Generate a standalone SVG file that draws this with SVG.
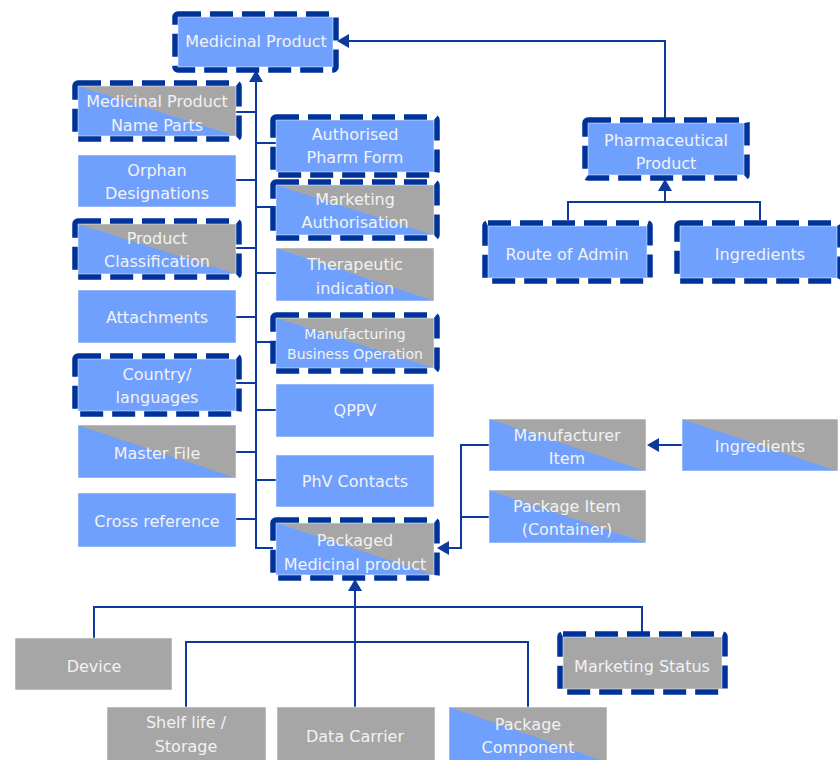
<svg xmlns="http://www.w3.org/2000/svg" width="840" height="760" viewBox="0 0 840 760">
  <style>
    .blue { fill: #6fa0fe; stroke: #ffffff; stroke-width: 1; stroke-opacity: 0.5; }
    .grey { fill: #a6a6a6; stroke: #ffffff; stroke-width: 1; stroke-opacity: 0.5; }
    .split { fill: url(#split); stroke: #ffffff; stroke-width: 1; stroke-opacity: 0.5; }
    .dash { fill: none; stroke: #003399; stroke-width: 5.5; stroke-dasharray: 23 9; }
    .lbl { font-family: "DejaVu Sans", Verdana, sans-serif; font-size: 16px; fill: #f2f2f2; text-anchor: middle; }
    .sm { font-size: 14px; }
    .wire { fill: none; stroke: #0d3a9c; stroke-width: 2; }
    .head { fill: #0d3a9c; }
  </style>
  <defs>
    <!-- hard diagonal split: grey upper-right, blue lower-left -->
    <linearGradient id="split" x1="1" y1="0" x2="0" y2="1">
      <stop offset="0" stop-color="#a6a6a6"/>
      <stop offset="0.5" stop-color="#a6a6a6"/>
      <stop offset="0.5" stop-color="#6fa0fe"/>
      <stop offset="1" stop-color="#6fa0fe"/>
    </linearGradient>
  </defs>
  <rect width="840" height="760" fill="#ffffff"/>

  <!-- connectors -->
  <g id="connectors">
    <!-- main trunk into Medicinal Product -->
    <path class="wire" d="M273 548 H256 V80"/>
    <path class="head" d="M256 70 L249 82 L263 82 Z"/>
    <!-- left column branches -->
    <path class="wire" d="M236 112 H256 M236 180 H256 M236 248 H256 M236 317 H256 M236 383 H256 M236 452 H256 M236 519 H256"/>
    <!-- right column branches -->
    <path class="wire" d="M256 143 H276 M256 207 H276 M256 273 H276 M256 342 H276 M256 410 H276 M256 480 H276"/>
    <!-- Pharmaceutical Product to Medicinal Product -->
    <path class="wire" d="M665 120 V41 H347"/>
    <path class="head" d="M337 41 L349 34 L349 48 Z"/>
    <!-- Route / Ingredients to Pharmaceutical Product -->
    <path class="wire" d="M568 220 V202 H760 V220 M665 202 V190"/>
    <path class="head" d="M665 179 L658 191 L672 191 Z"/>
    <!-- Ingredients to Manufacturer Item -->
    <path class="wire" d="M682 445 H657"/>
    <path class="head" d="M647 445 L659 438 L659 452 Z"/>
    <!-- item bracket to Packaged Medicinal product -->
    <path class="wire" d="M489 445 H461 V548 H447 M461 517 H489"/>
    <path class="head" d="M437 548 L449 541 L449 555 Z"/>
    <!-- bottom tree to Packaged Medicinal product -->
    <path class="wire" d="M355 707 V590"/>
    <path class="head" d="M355 579 L348 591 L362 591 Z"/>
    <path class="wire" d="M94 638 V607 H642 V632"/>
    <path class="wire" d="M186 707 V642 H528 V707"/>
  </g>

  <!-- top -->
  <g id="medicinal-product">
    <rect class="blue" x="178" y="17" width="155" height="50"/>
    <rect class="dash" x="175" y="14" width="161" height="56" rx="3"/>
    <text class="lbl" x="256" y="47">Medicinal Product</text>
  </g>

  <!-- left column -->
  <g id="name-parts">
    <rect class="split" x="78" y="86" width="158" height="50"/>
    <rect class="dash" x="75" y="83" width="164" height="56" rx="3"/>
    <text class="lbl" x="157" y="107">Medicinal Product</text>
    <text class="lbl" x="157" y="131">Name Parts</text>
  </g>
  <g id="orphan-designations">
    <rect class="blue" x="78" y="155" width="158" height="52"/>
    <text class="lbl" x="157" y="176">Orphan</text>
    <text class="lbl" x="157" y="199">Designations</text>
  </g>
  <g id="product-classification">
    <rect class="split" x="78" y="224" width="158" height="50"/>
    <rect class="dash" x="75" y="221" width="164" height="56" rx="3"/>
    <text class="lbl" x="157" y="244">Product</text>
    <text class="lbl" x="157" y="267">Classification</text>
  </g>
  <g id="attachments">
    <rect class="blue" x="78" y="290" width="158" height="53"/>
    <text class="lbl" x="157" y="323">Attachments</text>
  </g>
  <g id="country-languages">
    <rect class="blue" x="78" y="359" width="158" height="52"/>
    <rect class="dash" x="75" y="356" width="164" height="58" rx="3"/>
    <text class="lbl" x="157" y="380">Country/</text>
    <text class="lbl" x="157" y="403">languages</text>
  </g>
  <g id="master-file">
    <rect class="split" x="78" y="425" width="158" height="53"/>
    <text class="lbl" x="157" y="459">Master File</text>
  </g>
  <g id="cross-reference">
    <rect class="blue" x="78" y="493" width="158" height="54"/>
    <text class="lbl" x="157" y="527">Cross reference</text>
  </g>

  <!-- right column -->
  <g id="authorised-pharm-form">
    <rect class="blue" x="276" y="120" width="158" height="52"/>
    <rect class="dash" x="273" y="117" width="164" height="58" rx="3"/>
    <text class="lbl" x="355" y="140">Authorised</text>
    <text class="lbl" x="355" y="163">Pharm Form</text>
  </g>
  <g id="marketing-authorisation">
    <rect class="split" x="276" y="185" width="158" height="50"/>
    <rect class="dash" x="273" y="182" width="164" height="56" rx="3"/>
    <text class="lbl" x="355" y="205">Marketing</text>
    <text class="lbl" x="355" y="228">Authorisation</text>
  </g>
  <g id="therapeutic-indication">
    <rect class="split" x="276" y="248" width="158" height="53"/>
    <text class="lbl" x="355" y="270">Therapeutic</text>
    <text class="lbl" x="355" y="294">indication</text>
  </g>
  <g id="manufacturing-business-operation">
    <rect class="split" x="276" y="318" width="158" height="50"/>
    <rect class="dash" x="273" y="315" width="164" height="56" rx="3"/>
    <text class="lbl sm" x="355" y="339">Manufacturing</text>
    <text class="lbl sm" x="355" y="359">Business Operation</text>
  </g>
  <g id="qppv">
    <rect class="blue" x="276" y="384" width="158" height="53"/>
    <text class="lbl" x="355" y="416">QPPV</text>
  </g>
  <g id="phv-contacts">
    <rect class="blue" x="276" y="455" width="158" height="52"/>
    <text class="lbl" x="355" y="487">PhV Contacts</text>
  </g>
  <g id="packaged-medicinal-product">
    <rect class="split" x="276" y="523" width="158" height="52"/>
    <rect class="dash" x="273" y="520" width="164" height="58" rx="3"/>
    <text class="lbl" x="355" y="546">Packaged</text>
    <text class="lbl" x="355" y="570">Medicinal product</text>
  </g>

  <!-- pharmaceutical product branch -->
  <g id="pharmaceutical-product">
    <rect class="blue" x="588" y="123" width="156" height="52"/>
    <rect class="dash" x="585" y="120" width="162" height="58" rx="3"/>
    <text class="lbl" x="666" y="146">Pharmaceutical</text>
    <text class="lbl" x="666" y="169">Product</text>
  </g>
  <g id="route-of-admin">
    <rect class="blue" x="488" y="226" width="159" height="52"/>
    <rect class="dash" x="485" y="223" width="165" height="58" rx="3"/>
    <text class="lbl" x="567" y="260">Route of Admin</text>
  </g>
  <g id="ingredients-pharm">
    <rect class="blue" x="680" y="226" width="157" height="52"/>
    <rect class="dash" x="677" y="223" width="163" height="58" rx="3"/>
    <text class="lbl" x="760" y="260">Ingredients</text>
  </g>

  <!-- items -->
  <g id="manufacturer-item">
    <rect class="split" x="489" y="419" width="157" height="52"/>
    <text class="lbl" x="567" y="441">Manufacturer</text>
    <text class="lbl" x="567" y="464">Item</text>
  </g>
  <g id="ingredients-item">
    <rect class="split" x="682" y="419" width="156" height="52"/>
    <text class="lbl" x="760" y="452">Ingredients</text>
  </g>
  <g id="package-item">
    <rect class="split" x="489" y="490" width="157" height="53"/>
    <text class="lbl" x="567" y="512">Package Item</text>
    <text class="lbl" x="567" y="535">(Container)</text>
  </g>

  <!-- bottom -->
  <g id="device">
    <rect class="grey" x="15" y="638" width="157" height="52"/>
    <text class="lbl" x="94" y="672">Device</text>
  </g>
  <g id="marketing-status">
    <rect class="grey" x="563" y="637" width="159" height="52"/>
    <rect class="dash" x="560" y="634" width="165" height="58" rx="3"/>
    <text class="lbl" x="642" y="672">Marketing Status</text>
  </g>
  <g id="shelf-life-storage">
    <rect class="grey" x="107" y="707" width="159" height="55"/>
    <text class="lbl" x="186" y="728">Shelf life /</text>
    <text class="lbl" x="186" y="752">Storage</text>
  </g>
  <g id="data-carrier">
    <rect class="grey" x="277" y="707" width="158" height="55"/>
    <text class="lbl" x="355" y="742">Data Carrier</text>
  </g>
  <g id="package-component">
    <rect class="split" x="449" y="707" width="158" height="55"/>
    <text class="lbl" x="528" y="730">Package</text>
    <text class="lbl" x="528" y="753">Component</text>
  </g>
</svg>
